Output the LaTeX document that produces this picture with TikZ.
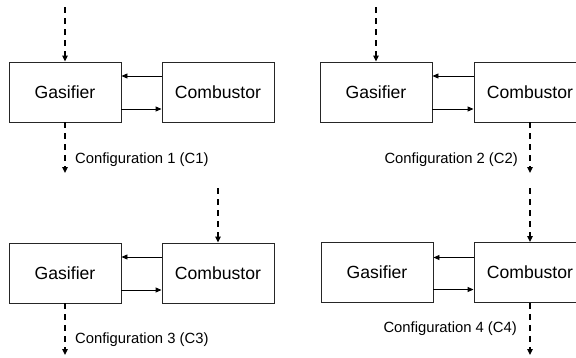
\documentclass[tikz,border=0pt]{standalone}
\usepackage{fontspec}
\setmainfont{Liberation Sans}
\usetikzlibrary{arrows.meta,positioning}

\tikzset{
  unit/.style={draw=black!85, line width=0.9pt, minimum width=112pt, minimum height=60pt,
    inner sep=0pt, font=\fontsize{17.6}{20}\selectfont},
  loop/.style={line width=0.9pt, -{Triangle[length=6pt,width=5pt]}},
  feed/.style={line width=1.3pt, dash pattern=on 6pt off 5pt,
    -{Triangle[length=6pt,width=5.5pt]}},
  cfg/.style={inner sep=0pt, font=\fontsize{14.8}{17}\selectfont}
}

\begin{document}
\begin{tikzpicture}[x=1pt,y=-1pt]
\clip (0,0) rectangle (576,357);

% Configuration 1: feed into the gasifier, product out of the gasifier
\node[unit] (g1) at (65,92) {Gasifier};
\node[unit] (c1) at (218,92) {Combustor};
\draw[loop] ([yshift=16pt]c1.west) -- ([yshift=16pt]g1.east);
\draw[loop] ([yshift=-17pt]g1.east) -- ([yshift=-17pt]c1.west);
\coordinate (in1) at (65,7);
\coordinate (out1) at (65,173);
\draw[feed] (in1) -- (g1.north);
\draw[feed] (g1.south) -- (out1);
\node[cfg, anchor=base west] (t1) at (75,163) {Configuration 1 (C1)};

% Configuration 2: feed into the gasifier, product out of the combustor
\node[unit] (g2) at (376,92) {Gasifier};
\node[unit] (c2) at (530,92) {Combustor};
\draw[loop] ([yshift=16pt]c2.west) -- ([yshift=16pt]g2.east);
\draw[loop] ([yshift=-17pt]g2.east) -- ([yshift=-17pt]c2.west);
\coordinate (in2) at (376,7);
\coordinate (out2) at (530,173);
\draw[feed] (in2) -- (g2.north);
\draw[feed] (c2.south) -- (out2);
\node[cfg, anchor=base east] (t2) at (518,163) {Configuration 2 (C2)};

% Configuration 3: feed into the combustor, product out of the gasifier
\node[unit] (g3) at (65,273) {Gasifier};
\node[unit] (c3) at (218,273) {Combustor};
\draw[loop] ([yshift=16pt]c3.west) -- ([yshift=16pt]g3.east);
\draw[loop] ([yshift=-17pt]g3.east) -- ([yshift=-17pt]c3.west);
\coordinate (in3) at (218,188);
\coordinate (out3) at (65,355);
\draw[feed] (in3) -- (c3.north);
\draw[feed] (g3.south) -- (out3);
\node[cfg, anchor=base west] (t3) at (75,343) {Configuration 3 (C3)};

% Configuration 4: feed into the combustor, product out of the combustor
\node[unit] (g4) at (377,272.5) {Gasifier};
\node[unit] (c4) at (530,272.5) {Combustor};
\draw[loop] ([yshift=15pt]c4.west) -- ([yshift=15pt]g4.east);
\draw[loop] ([yshift=-17pt]g4.east) -- ([yshift=-17pt]c4.west);
\coordinate (in4) at (530,188);
\coordinate (out4) at (530,355);
\draw[feed] (in4) -- (c4.north);
\draw[feed] (c4.south) -- (out4);
\node[cfg, anchor=base east] (t4) at (517,332) {Configuration 4 (C4)};
\end{tikzpicture}
\end{document}
